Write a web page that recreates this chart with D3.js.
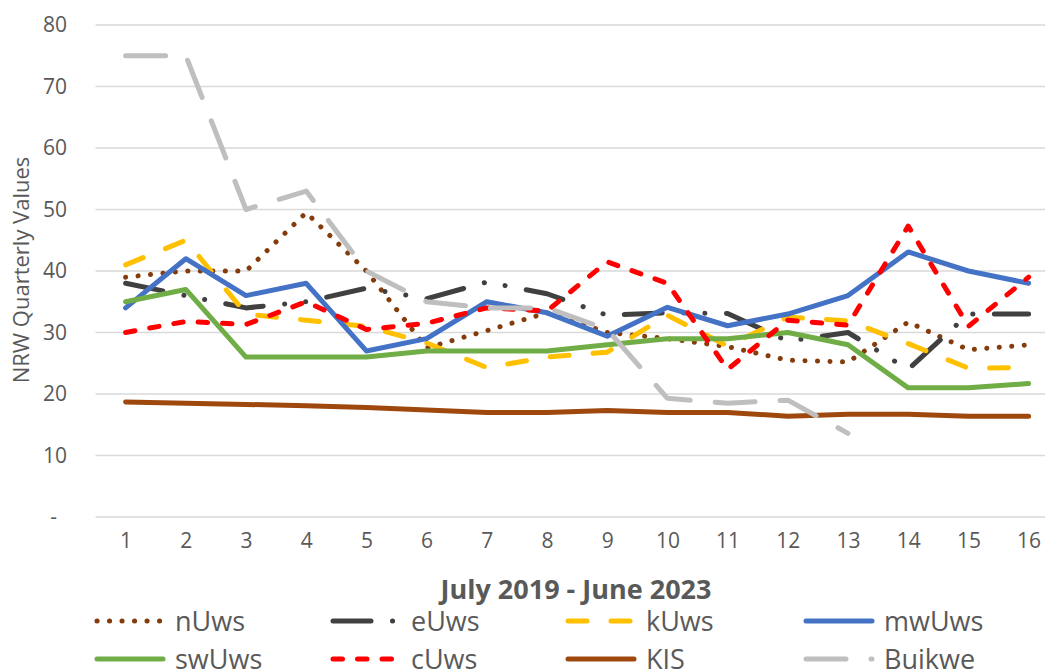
<!DOCTYPE html>
<html>
<head>
<meta charset="utf-8">
<script src="https://cdn.jsdelivr.net/npm/d3@7"></script>
<style>
  html, body { margin: 0; padding: 0; background: #fff; }
  svg { display: block; font-family: "Open Sans", sans-serif; }
</style>
</head>
<body>
<svg id="chart" width="1045" height="670"></svg>
<script>
// Quarters, July 2019 - June 2023
const quarters = [1, 2, 3, 4, 5, 6, 7, 8, 9, 10, 11, 12, 13, 14, 15, 16];
const yTicks = [0, 10, 20, 30, 40, 50, 60, 70, 80];

// NRW quarterly values per utility
const nUws   = [39, 40, 40, 49.5, 40, 27.5, 30.3, 33.2, 30, 29, 27.7, 25.5, 25.2, 31.7, 27.2, 28];
const eUws   = [38, 36, 34, 35, 37.2, 35.5, 38.2, 36.3, 32.8, 33.2, 33.1, 28.6, 30, 24, 33, 33];
const kUws   = [41, 45, 33, 32, 31, 28.3, 24.3, 26, 26.8, 32.8, 27.8, 32.5, 31.9, 28.2, 24.2, 24.3];
const mwUws  = [34, 42, 36, 38, 27, 29, 35, 33.2, 29.4, 34.1, 31.1, 33, 36, 43.1, 40, 38];
const swUws  = [35, 37, 26, 26, 26, 27, 27, 27, 28, 29, 29, 30, 28, 21, 21, 21.7];
const cUws   = [30, 31.8, 31.3, 35, 30.5, 31.5, 34, 33.5, 41.5, 38, 24, 32, 31.2, 47.3, 31, 39];
const KIS    = [18.7, 18.5, 18.3, 18.1, 17.8, 17.4, 17.0, 17.0, 17.3, 17.0, 17.0, 16.4, 16.7, 16.7, 16.4, 16.4];
const Buikwe = [75, 75, 50, 53, 40, 35, 34, 34, 30.5, 19.3, 18.5, 19, 13.6, null, null, null];

const seriesNames = ["nUws", "eUws", "kUws", "mwUws", "swUws", "cUws", "KIS", "Buikwe"];
const seriesValues = [nUws, eUws, kUws, mwUws, swUws, cUws, KIS, Buikwe];
const seriesColors = ["#843C0C", "#404040", "#FFC000", "#4472C4", "#70AD47", "#FF0000", "#9E480E", "#BFBFBF"];
const seriesDash = [
  "0.1,12.4",            // round dots
  "38,21.5,0.1,21,0.1,21.5", // long dash, dot, dot
  "19,24",               // dash
  null,                  // solid
  null,
  "9.5,15",              // short dash
  null,
  "40,25"                // long dash
];

const axisTitle = "NRW Quarterly Values";
const xTitle = "July 2019 - June 2023";

const svg = d3.select("#chart");
const textColor = "#595959";
const lineWidth = 5;

const x = d3.scalePoint().domain(quarters).range([95.5, 1058.7]).padding(0.5);
const y = d3.scaleLinear().domain([0, 80]).range([517, 25]);
const step = x.step();
const plotLeft = x(quarters[0]) - step / 2;

// gridlines
svg.append("g")
  .selectAll("line")
  .data(yTicks)
  .join("line")
  .attr("x1", plotLeft)
  .attr("x2", 1045)
  .attr("y1", d => y(d))
  .attr("y2", d => y(d))
  .attr("stroke", "#D9D9D9")
  .attr("stroke-width", 1.3);

// y axis labels
const yAxis = d3.axisLeft(y).tickValues(yTicks).tickSize(0).tickPadding(0)
  .tickFormat(d => d === 0 ? "-" : d);
const gy = svg.append("g").attr("transform", "translate(67,0)").call(yAxis);
gy.select(".domain").remove();
gy.selectAll("text")
  .attr("fill", textColor)
  .style("font-family", "'Open Sans', sans-serif")
  .style("font-size", "21px")
  .attr("dx", d => d === 0 ? -10 : 0);

// x axis labels
const xAxis = d3.axisBottom(x).tickSize(0).tickPadding(0);
const gx = svg.append("g").attr("transform", "translate(0,533)").call(xAxis);
gx.select(".domain").remove();
gx.selectAll("text")
  .attr("fill", textColor)
  .style("font-family", "'Open Sans', sans-serif")
  .style("font-size", "21px");

// axis titles
svg.append("text")
  .attr("transform", "translate(29,270) rotate(-90)")
  .attr("text-anchor", "middle")
  .attr("fill", textColor)
  .style("font-size", "22px")
  .text(axisTitle);

svg.append("text")
  .attr("x", 576)
  .attr("y", 599)
  .attr("text-anchor", "middle")
  .attr("fill", textColor)
  .style("font-size", "27px")
  .style("font-weight", "bold")
  .text(xTitle);

// series lines
const line = d3.line()
  .defined(d => d.v != null)
  .x(d => x(d.q))
  .y(d => y(d.v));

const series = seriesNames.map((name, i) => ({
  name,
  color: seriesColors[i],
  dash: seriesDash[i],
  points: quarters.map((q, j) => ({ q, v: seriesValues[i][j] }))
}));

svg.append("g")
  .selectAll("path")
  .data(series)
  .join("path")
  .attr("d", d => line(d.points))
  .attr("fill", "none")
  .attr("stroke", d => d.color)
  .attr("stroke-width", lineWidth)
  .attr("stroke-linecap", "round")
  .attr("stroke-linejoin", "round")
  .attr("stroke-dasharray", d => d.dash);

// legend
const legendCols = [97, 333, 568, 806];
const legendRows = [621, 659];
const swatchLen = 66;
const legend = svg.append("g")
  .selectAll("g")
  .data(series)
  .join("g")
  .attr("transform", (d, i) => `translate(${legendCols[i % 4]},${legendRows[Math.floor(i / 4)]})`);

legend.append("line")
  .attr("x1", 0)
  .attr("x2", swatchLen)
  .attr("y1", 0)
  .attr("y2", 0)
  .attr("stroke", d => d.color)
  .attr("stroke-width", lineWidth)
  .attr("stroke-linecap", "round")
  .attr("stroke-dasharray", d => d.dash);

legend.append("text")
  .attr("x", swatchLen + 12)
  .attr("y", 9.5)
  .attr("fill", textColor)
  .style("font-size", "27px")
  .text(d => d.name);
</script>
</body>
</html>
